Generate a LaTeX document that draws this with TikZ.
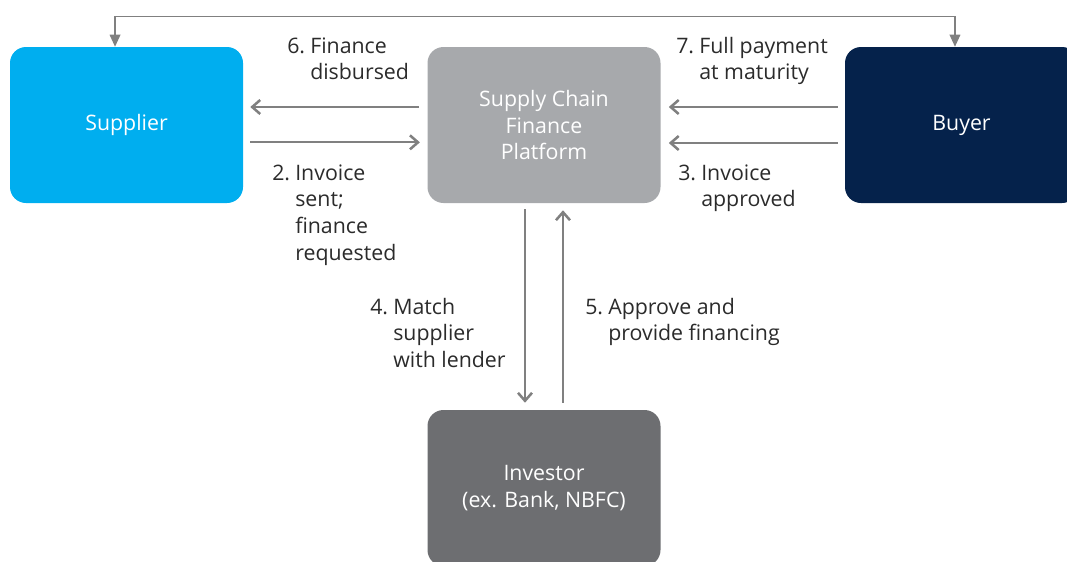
\documentclass[tikz,border=0pt]{standalone}
\usepackage{fontspec}
\setmainfont{Open Sans}
\usepackage{xcolor}
\usetikzlibrary{arrows.meta,positioning}
\definecolor{scfSky}{HTML}{00AEEF}
\definecolor{scfGrey}{HTML}{A7A9AC}
\definecolor{scfNavy}{HTML}{05224B}
\definecolor{scfSlate}{HTML}{6D6E71}
\definecolor{scfLine}{HTML}{808080}
\definecolor{scfText}{HTML}{2B2B2B}
\newcommand{\hang}[2]{\begin{tabular}[t]{@{}l@{\hspace{0.24em}}l@{}}#1&#2\end{tabular}}
\begin{document}
\begin{tikzpicture}[x=0.75pt, y=-0.75pt, font=\fontsize{16pt}{20pt}\selectfont]
\tikzstyle{party}=[rectangle, rounded corners=12pt, minimum width=174.75pt, minimum height=117pt, text=white, align=center, inner sep=0pt]
\tikzstyle{flow}=[draw=scfLine, line width=1.4pt, -{Straight Barb[length=6pt,width=10.5pt,line width=1.9pt]}]
\tikzstyle{ret}=[draw=scfLine, line width=1pt, {Triangle[length=9pt,width=8pt]}-{Triangle[length=9pt,width=8pt]}]
\tikzstyle{note}=[text=scfText, anchor=base west, inner sep=0pt]
\useasboundingbox (0,0) rectangle (1067,561);
\clip (0,0) rectangle (1067,561);
\node[party, fill=scfSky] (supp) at (126.5,125) {Supplier};
\node[party, fill=scfGrey] (plat) at (544,125) {Supply Chain\\Finance\\Platform};
\node[party, fill=scfNavy] (buyer) at (961.5,125) {Buyer};
\node[party, fill=scfSlate] (inv) at (544,488) {Investor\\(ex. Bank, NBFC)};
% horizontal flows
\draw[flow, shorten <=6pt, shorten >=5.25pt] ([yshift=13.5pt]plat.west) -- ([yshift=13.5pt]supp.east);
\draw[flow, shorten <=5.25pt, shorten >=5.5pt] ([yshift=-13pt]supp.east) -- ([yshift=-13pt]plat.west);
\draw[flow, shorten <=5.25pt, shorten >=6pt] ([yshift=13.5pt]buyer.west) -- ([yshift=13.5pt]plat.east);
\draw[flow, shorten <=5.25pt, shorten >=6pt] ([yshift=-13.5pt]buyer.west) -- ([yshift=-13.5pt]plat.east);
% vertical flows
\draw[flow, shorten <=4.5pt, shorten >=5.25pt] ([xshift=-14.25pt]plat.south) -- ([xshift=-14.25pt]inv.north);
\draw[flow, shorten <=5.25pt, shorten >=5.25pt] ([xshift=14.25pt]inv.north) -- ([xshift=14.25pt]plat.south);
% return line over the top
\draw[ret] ([xshift=-8.6pt]supp.north) -- ++(0,-30) -| ([xshift=-4.9pt]buyer.north);
\node[note] (l6) at (287,53) {\hang{6.}{Finance\\&disbursed}};
\node[note] (l7) at (676,53) {\hang{7.}{Full payment\\&at maturity}};
\node[note] (l2) at (272,180) {\hang{2.}{Invoice\\&sent;\\&finance\\&requested}};
\node[note] (l3) at (678,180) {\hang{3.}{Invoice\\&approved}};
\node[note] (l4) at (370,314) {\hang{4.}{Match\\&supplier\\&with lender}};
\node[note] (l5) at (585,314) {\hang{5.}{Approve and\\&provide financing}};
\end{tikzpicture}
\end{document}
